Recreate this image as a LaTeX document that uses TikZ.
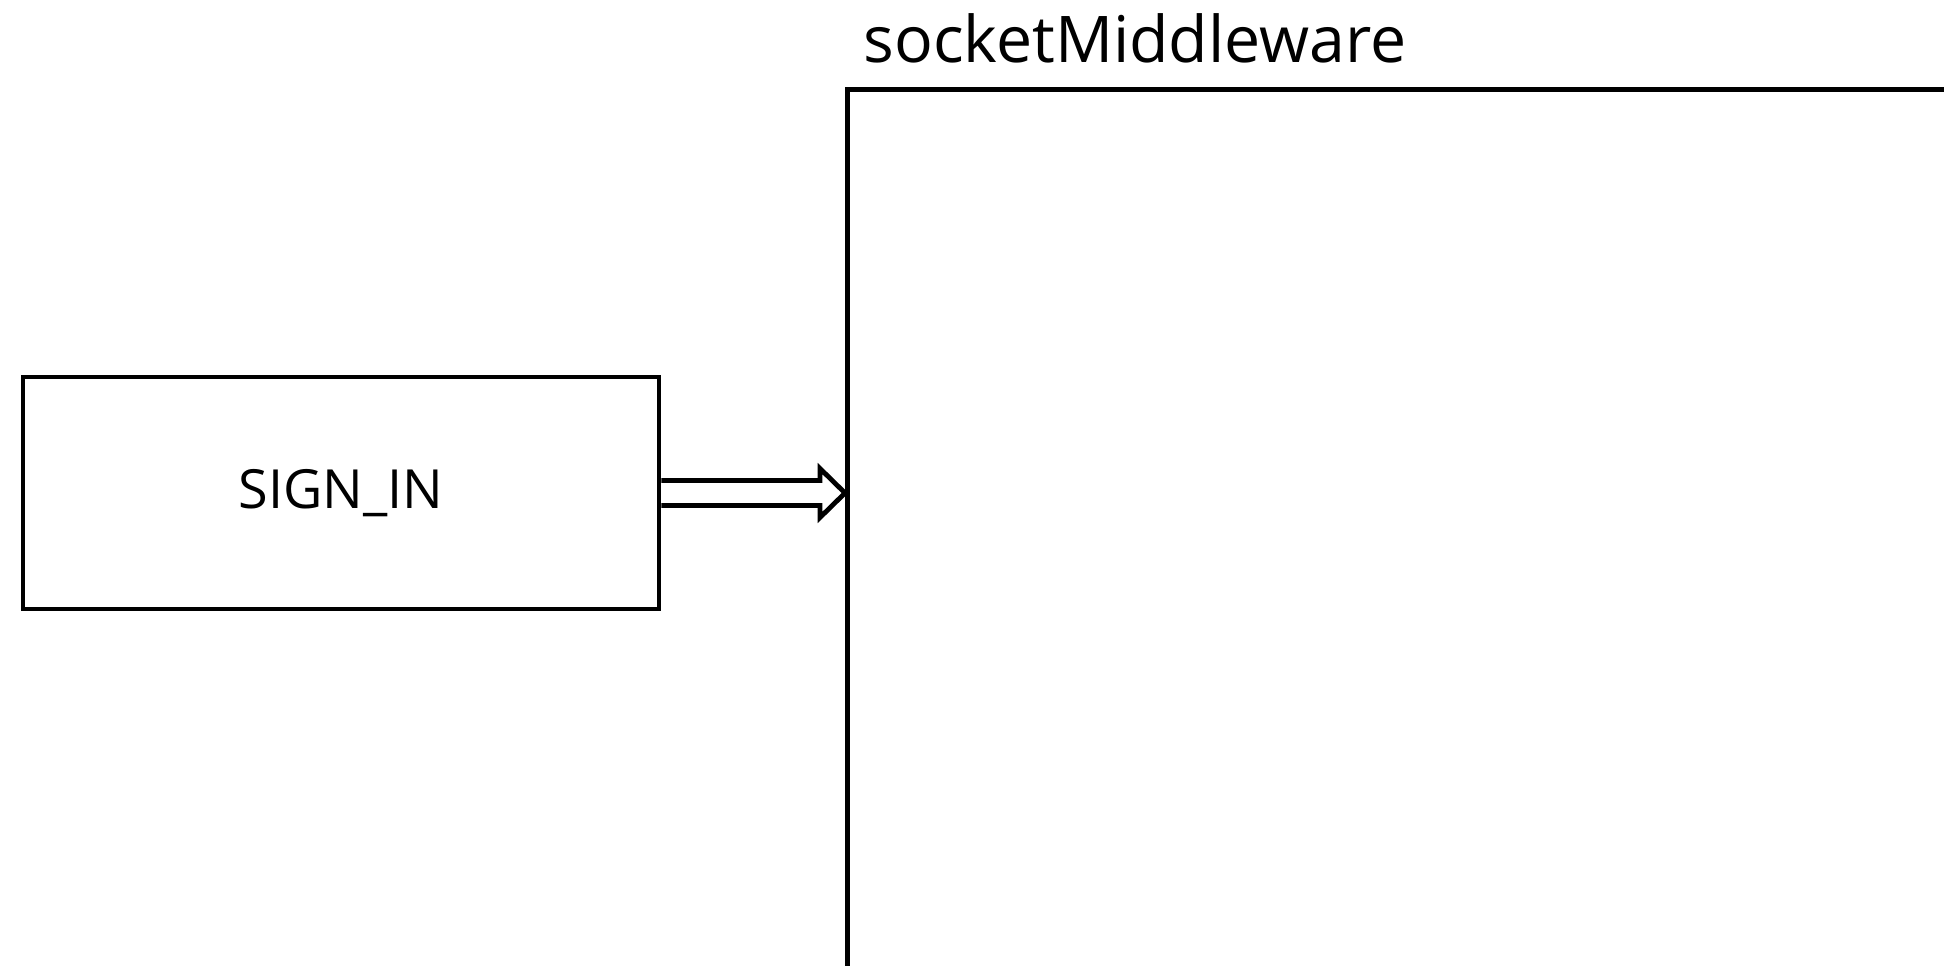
\documentclass[tikz,border=0pt]{standalone}
\usepackage{fontspec}
\setmainfont{Open Sans}
\usetikzlibrary{positioning, calc}

\begin{document}
\begin{tikzpicture}[x = 1pt, y = 1pt,
    every node/.style = { inner sep = 0pt, font = \fontsize{27}{32}\selectfont },
    box/.style = { draw, line width = 2.4pt, shape = rectangle },
    title/.style = { font = \fontsize{32.2}{38}\selectfont },
    link/.style = { draw, line width = 2.4pt, line join = miter }]
    \useasboundingbox (0, 0) rectangle (972, -482.5);
    \clip (0, 0) rectangle (972, -482.5);
    	 \node [box, minimum width = 700pt, minimum height = 600pt, anchor = north west] (mw) at (422.5, -43.5) {};
    	 \node [title, anchor = base west] (mwtitle) at ([xshift = 9pt, yshift = 12.5pt] mw.north west) { socketMiddleware };
    	 \node [box, minimum width = 318pt, minimum height = 116pt] (signin) at (170.5, -246.5) { SIGN\_IN };
      \coordinate (tip) at (mw.west |- signin.east);
      \draw [link] ([yshift = 6.25pt] signin.east) -- ([xshift = -12.5pt, yshift = 6.25pt] tip)
        -- ([xshift = -12.5pt, yshift = 12.25pt] tip) -- (tip)
        -- ([xshift = -12.5pt, yshift = -12.25pt] tip) -- ([xshift = -12.5pt, yshift = -6.25pt] tip)
        -- ([yshift = -6.25pt] signin.east);
      
    \end{tikzpicture}
\end{document}
